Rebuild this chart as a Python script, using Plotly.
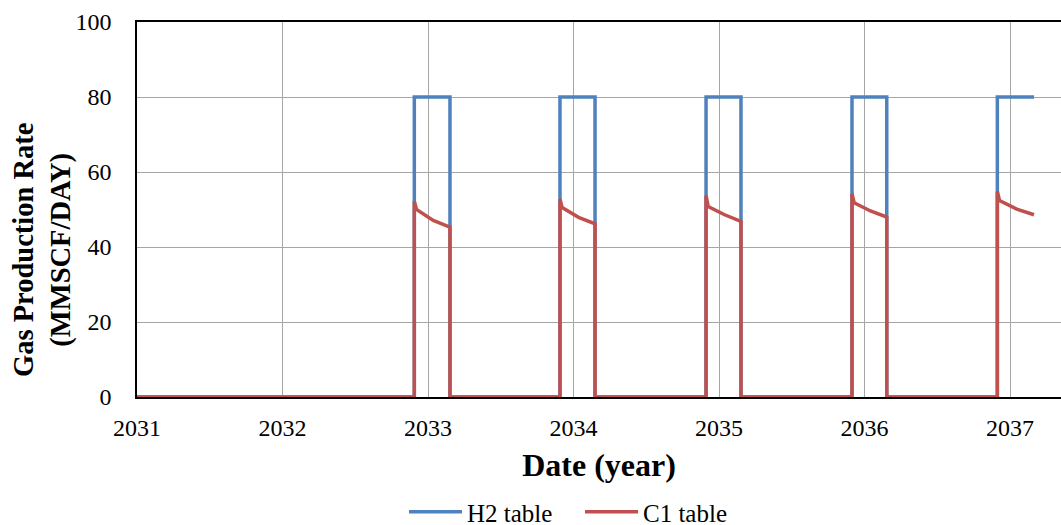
import plotly.graph_objects as go

# Injection/withdrawal cycles (decimal years)
cycle_start = [2032.906, 2033.907, 2034.911, 2035.914, 2036.913]
cycle_end = [2033.151, 2034.148, 2035.151, 2036.153, 2037.165]
last_open = True  # final cycle still running at end of record

# H2 table production rate during each cycle (MMSCF/DAY)
h2_rate = [80, 80, 80, 80, 80]

# C1 table production: initial spike, quick drop, mid-cycle and end-of-cycle values
c1_peak = [52.2, 52.8, 53.7, 54.2, 54.8]
c1_kink = [50.0, 50.5, 50.8, 51.8, 52.4]
c1_mid = [47.1, 47.9, 48.6, 49.6, 50.1]
c1_end = [45.3, 46.2, 46.8, 48.0, 48.6]
c1_kink_dt = 0.015

start_year = 2031
year_ticks = [2031, 2032, 2033, 2034, 2035, 2036, 2037]
y_ticks = [0, 20, 40, 60, 80, 100]

# build step traces
h2_x, h2_y = [start_year], [0]
c1_x, c1_y = [start_year], [0]
n = len(cycle_start)
for i in range(n):
    s, e = cycle_start[i], cycle_end[i]
    h2_x += [s, s, e]
    h2_y += [0, h2_rate[i], h2_rate[i]]
    c1_x += [s, s, s + c1_kink_dt, (s + c1_kink_dt + e) / 2, e]
    c1_y += [0, c1_peak[i], c1_kink[i], c1_mid[i], c1_end[i]]
    if not (last_open and i == n - 1):
        h2_x.append(e)
        h2_y.append(0)
        c1_x.append(e)
        c1_y.append(0)

BLUE = "#4F81BD"
RED = "#C0504D"
FONT = "Liberation Serif"

fig = go.Figure()
fig.add_trace(go.Scatter(x=h2_x, y=h2_y, mode="lines", name="H2 table",
                         line=dict(color=BLUE, width=3.5)))
fig.add_trace(go.Scatter(x=c1_x, y=c1_y, mode="lines", name="C1 table",
                         line=dict(color=RED, width=3.5)))

fig.update_layout(
    width=1061, height=525,
    margin=dict(l=137, r=0, t=22, b=128, autoexpand=False),
    paper_bgcolor="white", plot_bgcolor="white",
    font=dict(family=FONT, size=24, color="black"),
    showlegend=True,
    legend=dict(orientation="h", xref="container", yref="container",
                x=404 / 1061, xanchor="left", y=1 - 512 / 525, yanchor="middle",
                font=dict(family=FONT, size=25, color="black"),
                itemwidth=53, entrywidth=108, entrywidthmode="pixels"),
)
fig.update_xaxes(
    range=[start_year, start_year + (1061 - 137) / 145.5],
    tickmode="array", tickvals=year_ticks, ticktext=[str(v) for v in year_ticks],
    showgrid=True, gridcolor="#A6A6A6", gridwidth=1,
    showline=True, linecolor="black", linewidth=1.5, mirror=True,
    zeroline=False, ticks="", ticklabelstandoff=8, automargin=False,
    tickfont=dict(family=FONT, size=24, color="black"),
    title=dict(text="<b>Date (year)</b>", font=dict(family=FONT, size=32, color="black"),
               standoff=14),
)
fig.update_yaxes(
    range=[0, 100],
    tickmode="array", tickvals=y_ticks,
    showgrid=True, gridcolor="#A6A6A6", gridwidth=1,
    showline=True, linecolor="black", linewidth=1.5,
    zeroline=False, ticks="", ticklabelstandoff=19, automargin=False,
    tickfont=dict(family=FONT, size=24, color="black"),
)
fig.add_annotation(
    text="<b>Gas Production Rate<br>(MMSCF/DAY)</b>",
    xref="paper", yref="paper", x=(42 - 137) / 924, y=(397 - 250) / 375,
    xanchor="center", yanchor="middle", textangle=-90, showarrow=False,
    font=dict(size=28.5, family=FONT, color="black"), align="center",
)

fig.write_html("out.html")
